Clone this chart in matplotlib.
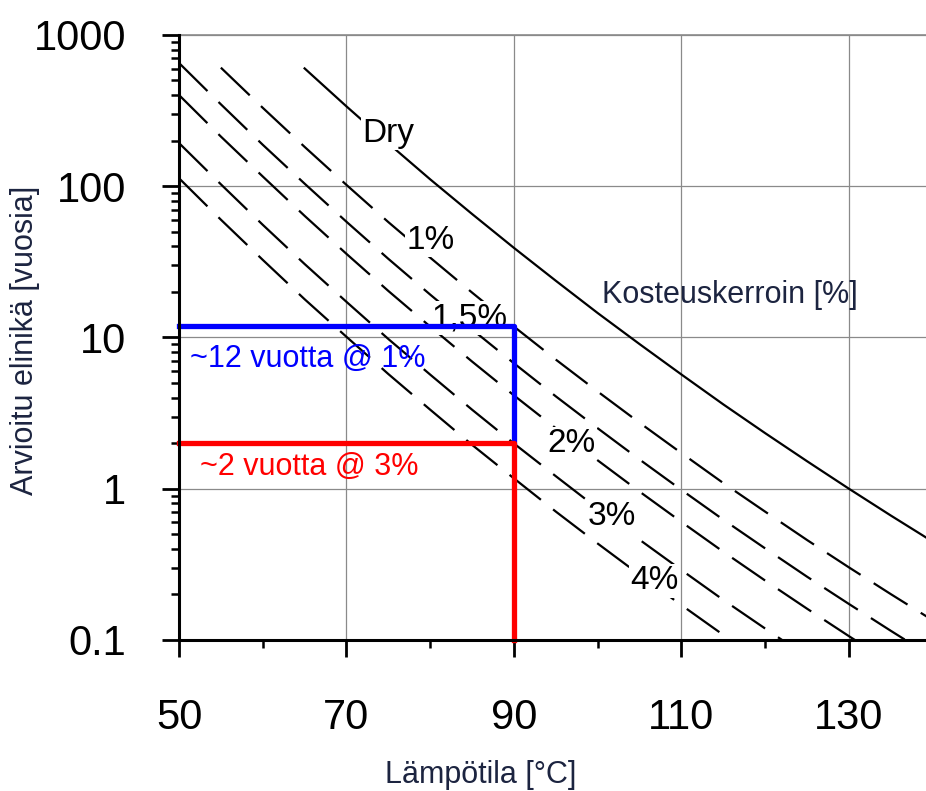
import matplotlib.pyplot as plt
from matplotlib.ticker import LogLocator, NullFormatter, FixedLocator

plt.rcParams['font.family'] = ['Liberation Sans', 'DejaVu Sans']

# --- DATA
temp = [50, 55, 60, 65, 70, 75, 80, 85, 90, 95, 100, 105, 110, 115, 120, 125, 130, 135, 140]

dry_t = temp[3:]
dry = [601, 337, 192, 111, 65.5, 39.1, 23.7, 14.5, 9.04, 5.69, 3.61, 2.33, 1.52, 1.00, 0.665, 0.447]

m1_t = temp[1:]
m1 = [608, 330, 182, 102, 57.9, 33.7, 19.8, 11.8, 7.14, 4.39, 2.73, 1.72, 1.09, 0.705, 0.458, 0.302, 0.201, 0.135]

m15_t = temp
m15 = [653, 348, 188, 104, 58.2, 33.1, 19.2, 11.3, 6.75, 4.08, 2.51, 1.56, 0.982, 0.624, 0.403, 0.262, 0.173, 0.115, 0.0771]

m2_t = temp[:18]
m2 = [401, 213, 116, 63.7, 35.7, 20.3, 11.8, 6.93, 4.14, 2.51, 1.54, 0.957, 0.603, 0.383, 0.247, 0.161, 0.106, 0.0705]

m3_t = temp[:16]
m3 = [193, 103, 55.6, 30.6, 17.2, 9.77, 5.68, 3.33, 1.99, 1.21, 0.740, 0.460, 0.290, 0.184, 0.119, 0.0773]

m4_t = temp[:15]
m4 = [113, 60.1, 32.6, 17.9, 10.1, 5.73, 3.33, 1.95, 1.17, 0.706, 0.434, 0.270, 0.170, 0.108, 0.0697]

# esimerkkitapaukset
case_temp = 90
case_blue = 12
case_red = 2

x_ticks = [50, 70, 90, 110, 130]
y_ticks = [0.1, 1, 10, 100, 1000]
y_tick_labels = ["0.1", "1", "10", "100", "1000"]

label_col = "#1c2440"

fig = plt.figure(figsize=(9.26, 7.91), dpi=100)
ax = fig.add_axes([0.1933, 0.1909, 0.8067, 0.7649])

ax.set_yscale("log")
ax.set_xlim(50, 139.2)
ax.set_ylim(0.1, 1000)

# grid
ax.grid(True, which="major", color="#8a8a8a", lw=0.9, zorder=0)
ax.axhline(1000, color="#8a8a8a", lw=1.2, zorder=0, clip_on=False)

# kosteuskäyrät
ax.plot(dry_t, dry, color="black", lw=1.6, zorder=2)
for t, v in [(m1_t, m1), (m15_t, m15), (m2_t, m2), (m3_t, m3), (m4_t, m4)]:
    ln, = ax.plot(t, v, color="black", lw=1.6, zorder=2)
    ln.set_dashes((18, 7))

# tekstit käyrien päällä
box = dict(facecolor="white", edgecolor="none", pad=1)
ax.text(75.0, 224, "Dry", fontsize=24, ha="center", va="center", bbox=box, zorder=3)
ax.text(80.0, 43.9, "1%", fontsize=24, ha="center", va="center", bbox=box, zorder=3)
ax.text(84.7, 13.4, "1,5%", fontsize=24, ha="center", va="center", bbox=box, zorder=3)
ax.text(96.9, 1.99, "2%", fontsize=24, ha="center", va="center", bbox=box, zorder=3)
ax.text(101.7, 0.653, "3%", fontsize=24, ha="center", va="center", bbox=box, zorder=3)
ax.text(106.8, 0.246, "4%", fontsize=24, ha="center", va="center", bbox=box, zorder=3)
ax.text(115.8, 19.0, "Kosteuskerroin [%]", fontsize=22, ha="center", va="center",
        color=label_col, zorder=3)

# sininen ja punainen merkintä
ax.plot([50, case_temp, case_temp], [case_blue, case_blue, case_red], color="#0000ff",
        lw=3.8, zorder=5, clip_on=False)
ax.plot([50, case_temp, case_temp], [case_red, case_red, 0.1], color="#ff0000",
        lw=3.8, zorder=5, clip_on=False)
ax.text(51.3, 7.26, "~12 vuotta @ 1%", fontsize=22, color="#0000ff", ha="left", va="center")
ax.text(52.5, 1.40, "~2 vuotta @ 3%", fontsize=22, color="#ff0000", ha="left", va="center")

# akselit
for s in ["top", "right"]:
    ax.spines[s].set_visible(False)
for s in ["left", "bottom"]:
    ax.spines[s].set_linewidth(2.2)
    ax.spines[s].set_zorder(6)

ax.xaxis.set_major_locator(FixedLocator(x_ticks))
ax.xaxis.set_minor_locator(FixedLocator([60, 80, 100, 120]))
ax.set_yticks(y_ticks)
ax.set_yticklabels(y_tick_labels)
ax.yaxis.set_minor_locator(LogLocator(base=10, subs=range(2, 10)))
ax.yaxis.set_minor_formatter(NullFormatter())

ax.tick_params(which="major", direction="out", length=12, width=2, labelsize=30, color="black")
ax.tick_params(which="minor", direction="out", length=6, width=1.8, color="black")
ax.tick_params(axis="y", which="major", pad=26)
ax.tick_params(axis="x", which="major", pad=30)

ax.set_xlabel("Lämpötila [°C]", fontsize=22, color=label_col)
ax.set_ylabel("Arvioitu elinikä [vuosia]", fontsize=22, color=label_col)
ax.yaxis.label.set_va("center")
ax.yaxis.set_label_coords(-0.206, 0.496)
ax.xaxis.set_label_coords(0.404, -0.198)

fig.savefig("out.png", dpi=100)
